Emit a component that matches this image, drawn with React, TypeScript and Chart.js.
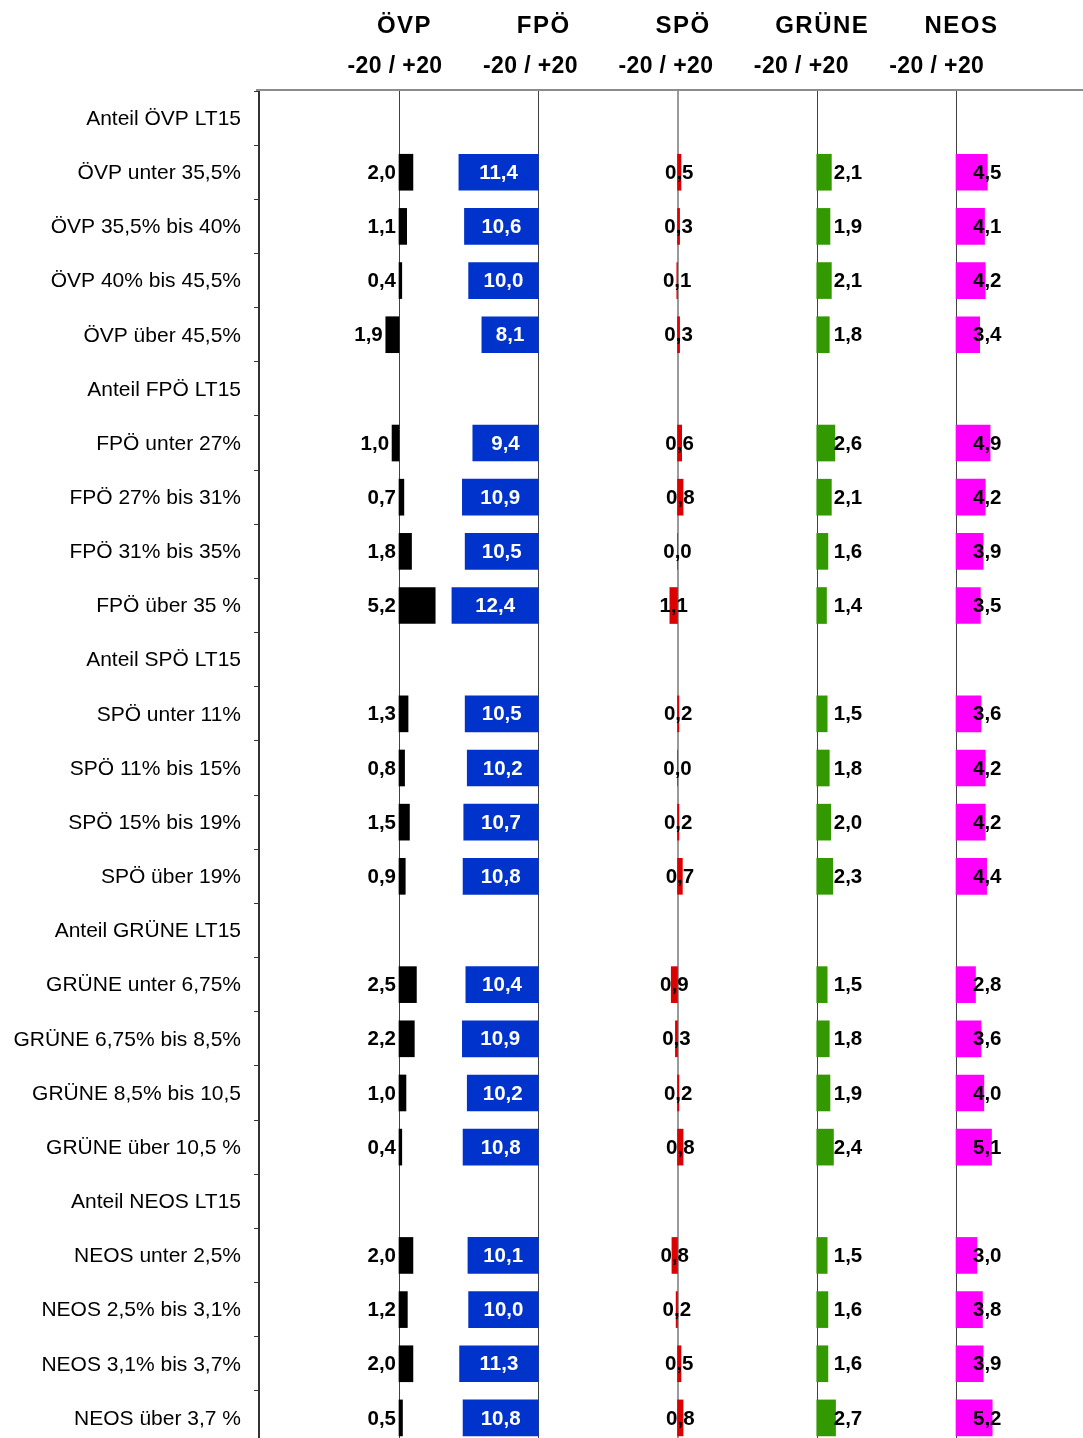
import React, { useEffect, useRef } from "react";
import { Chart, registerables } from "chart.js";

Chart.register(...registerables);

const categories = [
  "Anteil ÖVP LT15", "ÖVP unter 35,5%", "ÖVP 35,5% bis 40%", "ÖVP 40% bis 45,5%", "ÖVP über 45,5%",
  "Anteil FPÖ LT15", "FPÖ unter 27%", "FPÖ 27% bis 31%", "FPÖ 31% bis 35%", "FPÖ über 35 %",
  "Anteil SPÖ LT15", "SPÖ unter 11%", "SPÖ 11% bis 15%", "SPÖ 15% bis 19%", "SPÖ über 19%",
  "Anteil GRÜNE LT15", "GRÜNE unter 6,75%", "GRÜNE 6,75% bis 8,5%", "GRÜNE 8,5% bis 10,5", "GRÜNE über 10,5 %",
  "Anteil NEOS LT15", "NEOS unter 2,5%", "NEOS 2,5% bis 3,1%", "NEOS 3,1% bis 3,7%", "NEOS über 3,7 %",
];

const parties = ["ÖVP", "FPÖ", "SPÖ", "GRÜNE", "NEOS"];
const rangeLabel = "-20 / +20";

const oevp = [null, 2.0, 1.1, 0.4, -1.9, null, -1.0, 0.7, 1.8, 5.2, null, 1.3, 0.8, 1.5, 0.9, null, 2.5, 2.2, 1.0, 0.4, null, 2.0, 1.2, 2.0, 0.5];
const fpoe = [null, -11.4, -10.6, -10.0, -8.1, null, -9.4, -10.9, -10.5, -12.4, null, -10.5, -10.2, -10.7, -10.8, null, -10.4, -10.9, -10.2, -10.8, null, -10.1, -10.0, -11.3, -10.8];
const spoe = [null, 0.5, 0.3, -0.1, 0.3, null, 0.6, 0.8, 0.0, -1.1, null, 0.2, 0.0, 0.2, 0.7, null, -0.9, -0.3, 0.2, 0.8, null, -0.8, -0.2, 0.5, 0.8];
const gruene = [null, 2.1, 1.9, 2.1, 1.8, null, 2.6, 2.1, 1.6, 1.4, null, 1.5, 1.8, 2.0, 2.3, null, 1.5, 1.8, 1.9, 2.4, null, 1.5, 1.6, 1.6, 2.7];
const neos = [null, 4.5, 4.1, 4.2, 3.4, null, 4.9, 4.2, 3.9, 3.5, null, 3.6, 4.2, 4.2, 4.4, null, 2.8, 3.6, 4.0, 5.1, null, 3.0, 3.8, 3.9, 5.2];

const seriesList = [oevp, fpoe, spoe, gruene, neos];
const colors = ["#000000", "#0033CC", "#DD0000", "#339900", "#FF00FF"];
const labelModes = ["leftOfBar", "inside", "center", "afterZero", "afterZero"];

const FONT = '"Liberation Sans", Arial, sans-serif';
const CANVAS_W = 1083;
const CANVAS_H = 1445;
const AREA_TOP = 91;
const AREA_LEFT = 259;
const FIRST_ZERO = 399;
const PANEL_PX = 139.25; // pixels per 20 units
const PANEL_UNITS = 20;

const fmt = (v: number) => Math.abs(v).toFixed(1).replace(".", ",");

export default function App() {
  const canvasRef = useRef<HTMLCanvasElement | null>(null);

  useEffect(() => {
    if (!canvasRef.current) return;
    const k = PANEL_PX / PANEL_UNITS;
    const baseMin = -(FIRST_ZERO - AREA_LEFT) / k;
    const span = (CANVAS_W - AREA_LEFT) / k;

    const xScales: any = {};
    parties.forEach((_, i) => {
      xScales["x" + i] = {
        type: "linear",
        axis: "x",
        display: false,
        min: baseMin - PANEL_UNITS * i,
        max: baseMin - PANEL_UNITS * i + span,
      };
    });

    const decor = {
      id: "decor",
      beforeDatasetsDraw(chart: any) {
        const { ctx, chartArea } = chart;
        ctx.save();
        // top line
        ctx.strokeStyle = "#8c8c8c";
        ctx.lineWidth = 2;
        ctx.beginPath();
        ctx.moveTo(256, 90);
        ctx.lineTo(CANVAS_W, 90);
        ctx.stroke();
        // zero lines
        parties.forEach((_, i) => {
          const z = chart.scales["x" + i].getPixelForValue(0);
          const isGray = i === 2;
          ctx.strokeStyle = isGray ? "#9a9a9a" : "#404040";
          ctx.lineWidth = isGray ? 2 : 1;
          const xx = isGray ? Math.round(z) : Math.round(z) + 0.5;
          ctx.beginPath();
          ctx.moveTo(xx, 91);
          ctx.lineTo(xx, chartArea.bottom);
          ctx.stroke();
        });
        ctx.restore();
      },
      afterDatasetsDraw(chart: any) {
        const { ctx } = chart;
        const yScale = chart.scales.y;
        ctx.save();
        ctx.font = `bold 20.5px ${FONT}`;
        ctx.textBaseline = "middle";
        seriesList.forEach((d, i) => {
          const xs = chart.scales["x" + i];
          const z = xs.getPixelForValue(0);
          d.forEach((v, j) => {
            if (v == null) return;
            const p = xs.getPixelForValue(v);
            const y = yScale.getPixelForTick(j) + 1;
            const txt = fmt(v);
            const mode = labelModes[i];
            if (mode === "leftOfBar") {
              ctx.textAlign = "right";
              ctx.fillStyle = "#000";
              ctx.fillText(txt, Math.min(p, z) - 3, y);
            } else if (mode === "inside") {
              ctx.textAlign = "center";
              ctx.fillStyle = "#fff";
              ctx.fillText(txt, (p + z) / 2, y);
            } else if (mode === "center") {
              ctx.textAlign = "center";
              ctx.fillStyle = "#000";
              ctx.fillText(txt, (p + z) / 2, y);
            } else {
              ctx.textAlign = "left";
              ctx.fillStyle = "#000";
              ctx.fillText(txt, z + 17, y);
            }
          });
        });
        ctx.restore();
      },
      afterDraw(chart: any) {
        const { ctx } = chart;
        const yScale = chart.scales.y;
        ctx.save();
        // category labels
        ctx.font = `21px ${FONT}`;
        ctx.textAlign = "right";
        ctx.textBaseline = "middle";
        ctx.fillStyle = "#000";
        categories.forEach((c, j) => {
          ctx.fillText(c, 241, yScale.getPixelForTick(j) + 1);
        });
        // headers
        ctx.textAlign = "center";
        ctx.textBaseline = "alphabetic";
        parties.forEach((name, i) => {
          const z = chart.scales["x" + i].getPixelForValue(0);
          ctx.font = `bold 24px ${FONT}`;
          (ctx as any).letterSpacing = "1.5px";
          ctx.fillText(name, z + 5.5, 33);
          ctx.font = `bold 23px ${FONT}`;
          (ctx as any).letterSpacing = "0.4px";
          ctx.fillText(rangeLabel, z - 4 - 3.8 * i, 73);
        });
        (ctx as any).letterSpacing = "0px";
        ctx.restore();
      },
    };

    const chart = new Chart(canvasRef.current, {
      type: "bar",
      data: {
        labels: categories,
        datasets: seriesList.map((d, i) => ({
          label: parties[i],
          data: d as any,
          xAxisID: "x" + i,
          yAxisID: "y",
          backgroundColor: colors[i],
          borderWidth: 0,
          barThickness: 36,
          grouped: false,
        })),
      },
      options: {
        indexAxis: "y",
        responsive: false,
        maintainAspectRatio: false,
        animation: false,
        events: [],
        layout: { padding: { top: AREA_TOP, left: 0, right: 0, bottom: 0 } },
        plugins: { legend: { display: false }, tooltip: { enabled: false } },
        scales: {
          ...xScales,
          y: {
            type: "category",
            position: "left",
            offset: true,
            grid: {
              offset: true,
              drawOnChartArea: false,
              drawTicks: true,
              tickLength: 5,
              color: "#333",
              lineWidth: 1,
            },
            border: { display: true, color: "#333", width: 2 },
            ticks: { display: false },
            afterFit: (s: any) => {
              s.width = AREA_LEFT;
            },
          },
        },
      } as any,
      plugins: [decor],
    });

    return () => chart.destroy();
  }, []);

  return (
    <div
      style={{
        position: "fixed",
        left: 0,
        top: 0,
        width: CANVAS_W,
        height: 1438,
        overflow: "hidden",
        background: "#fff",
      }}
    >
      <canvas
        ref={canvasRef}
        width={CANVAS_W}
        height={CANVAS_H}
        style={{ display: "block", width: CANVAS_W, height: CANVAS_H }}
      />
    </div>
  );
}
